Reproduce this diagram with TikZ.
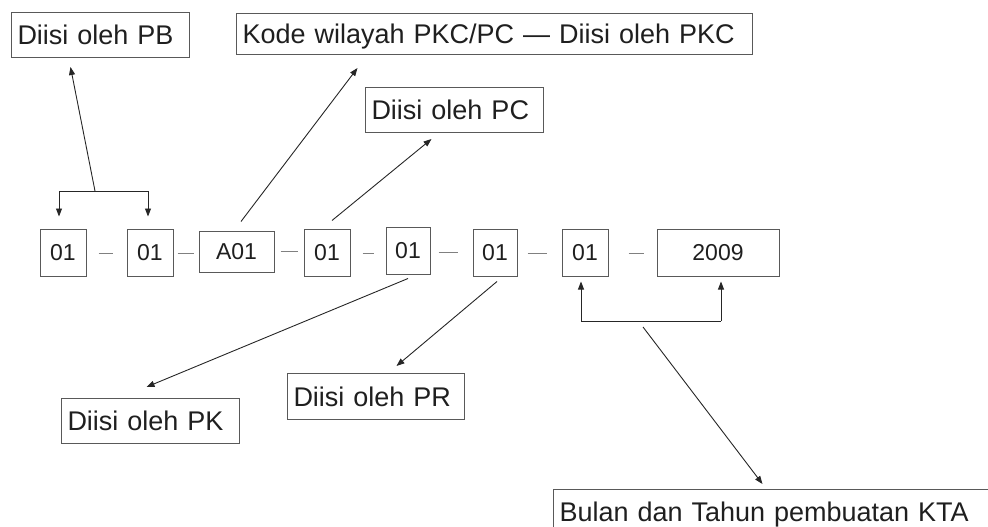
\documentclass[tikz,border=0pt]{standalone}
\usepackage{fontspec}
\setmainfont{Liberation Sans}
\usetikzlibrary{arrows.meta}
\begin{document}
\begin{tikzpicture}[x=1pt,y=-1pt,
  every node/.style={text=black!88},
  numbox/.style={draw=black!65, line width=1pt, inner sep=0pt, font=\fontsize{23}{27}\selectfont, text height=16.5pt, text depth=0pt},
  lblbox/.style={draw=black!65, line width=1pt, anchor=north west, inner xsep=6pt, inner ysep=0pt, align=left, font=\fontsize{27}{32}\selectfont, text height=19.5pt, text depth=0pt},
  conn/.style={line width=0.9pt, draw=black!85},
  arr/.style={conn, -{Triangle[length=8pt,width=6pt]}},
  sepline/.style={line width=1pt, draw=black!50}]
\useasboundingbox (0,0) rectangle (988,527);
\clip (0,0) rectangle (988,527);
% number row
\node[numbox, minimum width=46pt, minimum height=47pt] (b1) at (63,252.5) {01};
\node[numbox, minimum width=46pt, minimum height=47pt] (b2) at (150,252.5) {01};
\node[numbox, minimum width=75pt, minimum height=41pt] (b3) at (236.5,251.5) {A01};
\node[numbox, minimum width=46pt, minimum height=47pt] (b4) at (327,252.5) {01};
\node[numbox, minimum width=44pt, minimum height=47pt] (b5) at (408,250.5) {01};
\node[numbox, minimum width=44pt, minimum height=47pt] (b6) at (495,252.5) {01};
\node[numbox, minimum width=46pt, minimum height=47pt] (b7) at (585,252.5) {01};
\node[numbox, minimum width=122pt, minimum height=47pt] (b8) at (718,252.5) {2009};
% separators
\draw[sepline] ([xshift=12pt,yshift=-0.5pt]b1.east) -- ([xshift=26pt,yshift=-0.5pt]b1.east);
\draw[sepline] ([xshift=4pt,yshift=-0.5pt]b2.east) -- ([xshift=20pt,yshift=-0.5pt]b2.east);
\draw[sepline] ([xshift=6pt]b3.east) -- ([xshift=23pt]b3.east);
\draw[sepline] ([xshift=12pt,yshift=-0.5pt]b4.east) -- ([xshift=23pt,yshift=-0.5pt]b4.east);
\draw[sepline] ([xshift=8pt,yshift=-1.5pt]b5.east) -- ([xshift=27pt,yshift=-1.5pt]b5.east);
\draw[sepline] ([xshift=10pt,yshift=-0.5pt]b6.east) -- ([xshift=29pt,yshift=-0.5pt]b6.east);
\draw[sepline] ([xshift=20pt,yshift=-0.5pt]b7.east) -- ([xshift=35pt,yshift=-0.5pt]b7.east);
% labels
\node[lblbox, text width=166pt, minimum height=45pt] (pb) at (11,12) {Diisi oleh PB};
\node[lblbox, text width=504pt, minimum height=41pt] (kode) at (236,13) {Kode wilayah PKC/PC — Diisi oleh PKC};
\node[lblbox, text width=166pt, minimum height=45pt] (pc) at (365,87) {Diisi oleh PC};
\node[lblbox, text width=166pt, minimum height=45pt] (pk) at (61,398) {Diisi oleh PK};
\node[lblbox, text width=165pt, minimum height=46pt] (pr) at (287,373) {Diisi oleh PR};
\node[lblbox, text width=430pt, minimum height=45pt] (kta) at (553,489) {Bulan dan Tahun pembuatan KTA};
% PB bracket
\coordinate (pbL) at (59,191);
\coordinate (pbR) at (148,191);
\coordinate (pbM) at (95,191);
\draw[conn] (pbL) -- (pbR);
\draw[arr, shorten >=12pt] (pbL) -- (pbL |- b1.north);
\draw[arr, shorten >=12pt] (pbR) -- (pbR |- b2.north);
\draw[arr] (pbM) -- ([xshift=-30pt,yshift=-9pt]pb.south);
% other pointers
\draw[arr] ([xshift=4.5pt,yshift=9pt]b3.north) -- ([xshift=-137pt,yshift=-13pt]kode.south);
\draw[arr] ([xshift=5pt,yshift=8pt]b4.north) -- ([xshift=-23pt,yshift=-6pt]pc.south);
\draw[arr] ([yshift=-4pt]b5.south) -- ([xshift=-4pt,yshift=11pt]pk.north);
\draw[arr] ([xshift=2pt,yshift=-5pt]b6.south) -- ([xshift=20.5pt,yshift=7pt]pr.north);
% KTA bracket
\coordinate (yL) at (581,321);
\coordinate (yR) at (721,321);
\coordinate (yM) at (643,327);
\draw[conn] (yL) -- (yR);
\draw[arr, shorten >=5pt] (yL) -- (yL |- b7.south);
\draw[arr, shorten >=5pt] (yR) -- (yR |- b8.south);
\draw[arr] (yM) -- ([xshift=-12pt,yshift=5pt]kta.north);
\end{tikzpicture}
\end{document}
